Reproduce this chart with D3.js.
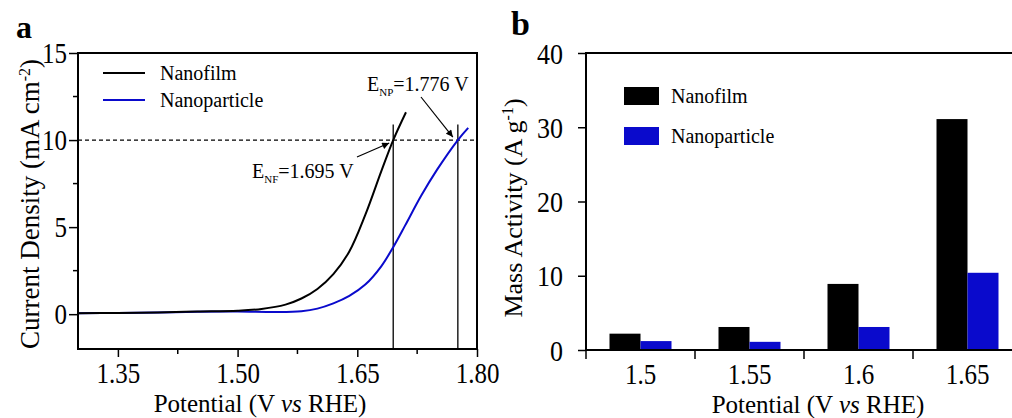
<!DOCTYPE html>
<html><head><meta charset="utf-8">
<script src="https://cdn.jsdelivr.net/npm/d3@7/dist/d3.min.js"></script>
<style>body{margin:0;background:#fff}svg{display:block}text{font-family:"Liberation Serif","Times New Roman",serif;fill:#000}</style>
</head><body>
<svg id="c" width="1012" height="418"></svg>
<script>
// ---- Panel a data (LSV curves) ----
const nfV = [1.30, 1.35, 1.40, 1.45, 1.50, 1.53, 1.56, 1.58, 1.60, 1.62, 1.64, 1.66, 1.68, 1.695, 1.711];
const nfJ = [0.05, 0.07, 0.10, 0.15, 0.20, 0.30, 0.55, 0.90, 1.45, 2.30, 3.6, 5.7, 8.2, 10.0, 11.6];
const npV = [1.30, 1.35, 1.40, 1.45, 1.50, 1.55, 1.58, 1.60, 1.62, 1.64, 1.66, 1.68, 1.695, 1.71, 1.73, 1.75, 1.776, 1.789];
const npJ = [0.05, 0.07, 0.10, 0.14, 0.15, 0.12, 0.17, 0.32, 0.62, 1.05, 1.70, 2.75, 3.85, 5.1, 6.8, 8.3, 10.0, 10.7];
const aXTicks = [1.35, 1.50, 1.65, 1.80];
const aYTicks = [0, 5, 10, 15];
const eNF = 1.695, eNP = 1.776, jRef = 10;
// ---- Panel b data (mass activity) ----
const categories = ["1.5", "1.55", "1.6", "1.65"];
const nanofilm = [2.2, 3.1, 8.9, 31.1];
const nanoparticle = [1.2, 1.1, 3.1, 10.4];
const bYTicks = [0, 10, 20, 30, 40];
const seriesNames = ["Nanofilm", "Nanoparticle"];

const BLUE = "#0a0acc";
const SY = 1.15; // tick labels look slightly taller than wide in the reference
const svg = d3.select("#c");

function styleTicks(g) {
  g.attr("font-family", null).attr("font-size", null);
  g.select(".domain").remove();
  g.selectAll("line").attr("stroke-width", 1.5);
  g.selectAll("text").style("font-size", "25px").attr("transform", `scale(1,${SY})`);
}

// ================= Panel a =================
const ax = d3.scaleLinear().domain([1.30, 1.80]).range([78, 477]);
const ay = d3.scaleLinear().domain([-2, 15]).range([349, 53]);
const ga = svg.append("g");

// minor ticks
[1.425, 1.575, 1.725].forEach(v => ga.append("line").attr("x1", ax(v)).attr("x2", ax(v)).attr("y1", 349).attr("y2", 354).attr("stroke", "#000").attr("stroke-width", 1.5));
[2.5, 7.5, 12.5].forEach(v => ga.append("line").attr("x1", 73).attr("x2", 78).attr("y1", ay(v)).attr("y2", ay(v)).attr("stroke", "#000").attr("stroke-width", 1.5));

const axb = ga.append("g").attr("transform", "translate(0,349)")
  .call(d3.axisBottom(ax).tickValues(aXTicks).tickFormat(d3.format(".2f")).tickSize(8).tickSizeOuter(0));
const axl = ga.append("g").attr("transform", "translate(78,0)")
  .call(d3.axisLeft(ay).tickValues(aYTicks).tickFormat(d3.format("d")).tickSize(9).tickSizeOuter(0));
styleTicks(axb); styleTicks(axl);
axb.selectAll("text").attr("dy", "0").attr("y", 34 / SY);
axl.selectAll("text").attr("x", -11).attr("dy", "0.34em");

// dashed ref line & vertical markers
ga.append("line").attr("x1", 78).attr("x2", 477).attr("y1", ay(jRef)).attr("y2", ay(jRef)).attr("stroke", "#000").attr("stroke-width", 1.3).attr("stroke-dasharray", "4,3");
[eNF, eNP].forEach(v => ga.append("line").attr("x1", ax(v)).attr("x2", ax(v)).attr("y1", ay(10.9)).attr("y2", 349).attr("stroke", "#000").attr("stroke-width", 1.3));

const line = d3.line().x(d => ax(d[0])).y(d => ay(d[1])).curve(d3.curveCatmullRom.alpha(0.5));
ga.append("path").datum(npV.map((v, i) => [v, npJ[i]])).attr("d", line).attr("fill", "none").attr("stroke", BLUE).attr("stroke-width", 2);
ga.append("path").datum(nfV.map((v, i) => [v, nfJ[i]])).attr("d", line).attr("fill", "none").attr("stroke", "#000").attr("stroke-width", 2);

// frame
ga.append("rect").attr("x", 78).attr("y", 53).attr("width", 399).attr("height", 296).attr("fill", "none").attr("stroke", "#000").attr("stroke-width", 2);

// legend a
[["#000", "Nanofilm", 73], [BLUE, "Nanoparticle", 100]].forEach(([c, t, y]) => {
  ga.append("line").attr("x1", 103).attr("x2", 145).attr("y1", y).attr("y2", y).attr("stroke", c).attr("stroke-width", 2);
  ga.append("text").attr("x", 160).attr("y", y + 7).style("font-size", "20px").text(t);
});

// annotations
function ann(x, y, sub, val) {
  const t = ga.append("text").attr("x", x).attr("y", y).style("font-size", "20px");
  t.append("tspan").text("E");
  t.append("tspan").attr("dy", 5).style("font-size", "11px").text(sub);
  t.append("tspan").attr("dy", -5).text("=" + val + " V");
}
ann(367, 91, "NP", eNP.toFixed(3));
ann(252, 178, "NF", eNF.toFixed(3));
const defs = svg.append("defs");
defs.append("marker").attr("id", "arr").attr("viewBox", "0 0 10 10").attr("refX", 10).attr("refY", 5)
  .attr("markerWidth", 9).attr("markerHeight", 7).attr("markerUnits", "userSpaceOnUse").attr("orient", "auto")
  .append("path").attr("d", "M0,0 L10,5 L0,10 Z").attr("fill", "#000");
ga.append("line").attr("x1", 421).attr("y1", 97).attr("x2", ax(eNP) - 5).attr("y2", ay(jRef) - 3).attr("stroke", "#000").attr("stroke-width", 1.2).attr("marker-end", "url(#arr)");
ga.append("line").attr("x1", 357).attr("y1", 157).attr("x2", ax(eNF) - 4).attr("y2", ay(jRef) + 3).attr("stroke", "#000").attr("stroke-width", 1.2).attr("marker-end", "url(#arr)");

// titles a
ga.append("text").attr("x", 260).attr("y", 412).attr("text-anchor", "middle").style("font-size", "25px")
  .call(t => { t.append("tspan").text("Potential (V "); t.append("tspan").style("font-style", "italic").text("vs"); t.append("tspan").text(" RHE)"); });
ga.append("text").attr("transform", "translate(39,204) rotate(-90)").attr("text-anchor", "middle").style("font-size", "27px")
  .call(t => { t.append("tspan").text("Current Density (mA cm"); t.append("tspan").attr("dy", -9).style("font-size", "16px").text("-2"); t.append("tspan").attr("dy", 9).text(")"); });
ga.append("text").attr("x", 16).attr("y", 38).style("font-size", "32px").style("font-weight", "bold").text("a");

// ================= Panel b =================
const bx = d3.scaleBand().domain(categories).range([586, 1022]);
const bs = d3.scaleBand().domain(seriesNames).range([bx.bandwidth() / 2 - 31, bx.bandwidth() / 2 + 31]);
const by = d3.scaleLinear().domain([0, 40]).range([350, 53]);
const gb = svg.append("g");
const rows = categories.map((c, i) => ({ c, v: [nanofilm[i], nanoparticle[i]] }));
gb.selectAll("g.grp").data(rows).join("g").attr("class", "grp").attr("transform", d => `translate(${bx(d.c)},0)`)
  .selectAll("rect").data(d => d.v.map((v, k) => ({ k, v }))).join("rect")
  .attr("x", d => bs(seriesNames[d.k])).attr("width", bs.bandwidth())
  .attr("y", d => by(d.v)).attr("height", d => 350 - by(d.v))
  .attr("fill", d => d.k === 0 ? "#000" : BLUE);

// frame b
gb.append("rect").attr("x", 586).attr("y", 53).attr("width", 436).attr("height", 297).attr("fill", "none").attr("stroke", "#000").attr("stroke-width", 2);
const byl = gb.append("g").attr("transform", "translate(586,0)").call(d3.axisLeft(by).tickValues(bYTicks).tickSize(8).tickSizeOuter(0));
styleTicks(byl);
byl.selectAll("text").attr("x", -23).attr("dy", "0.34em").style("font-size", "26px");
// boundary ticks on x axis
gb.selectAll("line.bt").data(categories).join("line").attr("class", "bt")
  .attr("x1", d => bx(d)).attr("x2", d => bx(d)).attr("y1", 350).attr("y2", 359).attr("stroke", "#000").attr("stroke-width", 1.5);
gb.selectAll("text.cl").data(categories).join("text").attr("class", "cl")
  .attr("transform", d => `translate(${bx(d) + bx.bandwidth() / 2},384) scale(1,${SY})`)
  .attr("text-anchor", "middle").style("font-size", "25px").text(d => d);

// legend b
[["#000", "Nanofilm", 87], [BLUE, "Nanoparticle", 127]].forEach(([c, t, y]) => {
  gb.append("rect").attr("x", 624).attr("y", y).attr("width", 35).attr("height", 18).attr("fill", c);
  gb.append("text").attr("x", 671).attr("y", y + 16).style("font-size", "20px").text(t);
});

gb.append("text").attr("x", 818).attr("y", 413).attr("text-anchor", "middle").style("font-size", "25px")
  .call(t => { t.append("tspan").text("Potential (V "); t.append("tspan").style("font-style", "italic").text("vs"); t.append("tspan").text(" RHE)"); });
gb.append("text").attr("transform", "translate(522,208) rotate(-90)").attr("text-anchor", "middle").style("font-size", "26px")
  .call(t => { t.append("tspan").text("Mass Activity (A g"); t.append("tspan").attr("dy", -9).style("font-size", "16px").text("-1"); t.append("tspan").attr("dy", 9).text(")"); });
gb.append("text").attr("x", 511).attr("y", 35).style("font-size", "34px").style("font-weight", "bold").text("b");
</script>
</body></html>
